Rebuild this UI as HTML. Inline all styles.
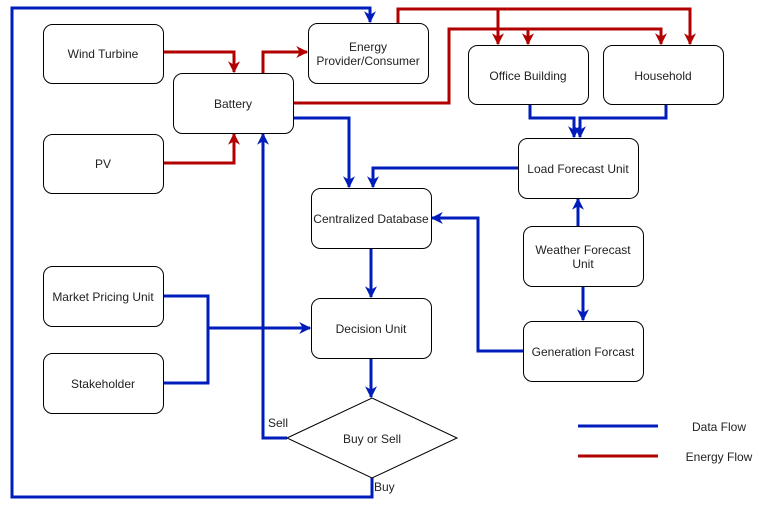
<!DOCTYPE html>
<html><head><meta charset="utf-8"><style>
html,body{margin:0;padding:0;background:#fff;}
svg{display:block;}
text{font-family:"Liberation Sans",Arial,sans-serif;font-size:12px;fill:#222;}
</style></head><body>
<svg width="759" height="508" viewBox="0 0 759 508" xmlns="http://www.w3.org/2000/svg">
<defs>
<marker id="ab" viewBox="0 0 10 10" refX="9" refY="5" markerWidth="4" markerHeight="4" orient="auto" markerUnits="strokeWidth"><path d="M0,0 L10,5 L0,10 L3,5 z" fill="#001DBC"/></marker>
<marker id="ar" viewBox="0 0 10 10" refX="9" refY="5" markerWidth="4" markerHeight="4" orient="auto" markerUnits="strokeWidth"><path d="M0,0 L10,5 L0,10 L3,5 z" fill="#B20000"/></marker>
</defs>
<g fill="none" stroke-width="3" stroke-linejoin="miter">
<!-- red -->
<g stroke="#B20000">
<polyline points="163,52 234,52 234,72" marker-end="url(#ar)"/>
<polyline points="163,163 234,163 234,134" marker-end="url(#ar)"/>
<polyline points="263,73 263,52 307,52" marker-end="url(#ar)"/>
<polyline points="398,23 398,9 690,9 690,44" marker-end="url(#ar)"/>
<polyline points="498,9 498,44" marker-end="url(#ar)"/>
<polyline points="293,103 449,103 449,29 661,29 661,44" marker-end="url(#ar)"/>
<polyline points="528,29 528,44" marker-end="url(#ar)"/>
<line x1="578" y1="456" x2="658" y2="456"/>
</g>
<!-- blue -->
<g stroke="#001DBC">
<polyline points="372,478 372,497 12,497 12,8 370,8 370,22" marker-end="url(#ab)"/>
<polyline points="293,118 349,118 349,187" marker-end="url(#ab)"/>
<polyline points="518,168 373,168 373,187" marker-end="url(#ab)"/>
<polyline points="530,104 530,118 574,118 574,137" marker-end="url(#ab)"/>
<polyline points="666,104 666,118 580,118 580,137" marker-end="url(#ab)"/>
<polyline points="578,226 578,199" marker-end="url(#ab)"/>
<polyline points="583,286 583,320" marker-end="url(#ab)"/>
<polyline points="523,351 478,351 478,218 432,218" marker-end="url(#ab)"/>
<polyline points="371,248 371,297" marker-end="url(#ab)"/>
<polyline points="163,296 208,296 208,383 163,383"/>
<polyline points="208,328 310,328" marker-end="url(#ab)"/>
<polyline points="371,358 371,397" marker-end="url(#ab)"/>
<polyline points="287,438 263,438 263,134" marker-end="url(#ab)"/>
<line x1="578" y1="426" x2="658" y2="426"/>
</g>
</g>
<g fill="#fff" stroke="#000" stroke-width="1">
<rect x="43.5" y="24.5" width="120" height="59" rx="9"/>
<rect x="43.5" y="134.5" width="120" height="59" rx="9"/>
<rect x="173.5" y="73.5" width="120" height="60" rx="9"/>
<rect x="308.5" y="23.5" width="120" height="60" rx="9"/>
<rect x="468.5" y="45.5" width="120" height="59" rx="9"/>
<rect x="603.5" y="45.5" width="120" height="59" rx="9"/>
<rect x="518.5" y="138.5" width="120" height="60" rx="9"/>
<rect x="311.5" y="188.5" width="120" height="60" rx="9"/>
<rect x="523.5" y="226.5" width="120" height="60" rx="9"/>
<rect x="43.5" y="266.5" width="120" height="60" rx="9"/>
<rect x="43.5" y="353.5" width="120" height="60" rx="9"/>
<rect x="311.5" y="298.5" width="120" height="60" rx="9"/>
<rect x="523.5" y="321.5" width="120" height="60" rx="9"/>
<polygon points="287,438 372,398 457,438 372,478"/>
</g>
<g text-anchor="middle">
<text x="103" y="58">Wind Turbine</text>
<text x="103" y="168">PV</text>
<text x="233" y="108">Battery</text>
<text x="368" y="51">Energy</text>
<text x="368" y="65">Provider/Consumer</text>
<text x="528" y="80">Office Building</text>
<text x="663" y="80">Household</text>
<text x="578" y="173">Load Forecast Unit</text>
<text x="371" y="223">Centralized Database</text>
<text x="583" y="254">Weather Forecast</text>
<text x="583" y="268">Unit</text>
<text x="103" y="301">Market Pricing Unit</text>
<text x="103" y="388">Stakeholder</text>
<text x="371" y="333">Decision Unit</text>
<text x="583" y="356">Generation Forcast</text>
<text x="372" y="443">Buy or Sell</text>
<text x="719" y="431">Data Flow</text>
<text x="719" y="461">Energy Flow</text>
</g>
<text x="268" y="427">Sell</text>
<text x="374" y="491">Buy</text>
</svg>
</body></html>
